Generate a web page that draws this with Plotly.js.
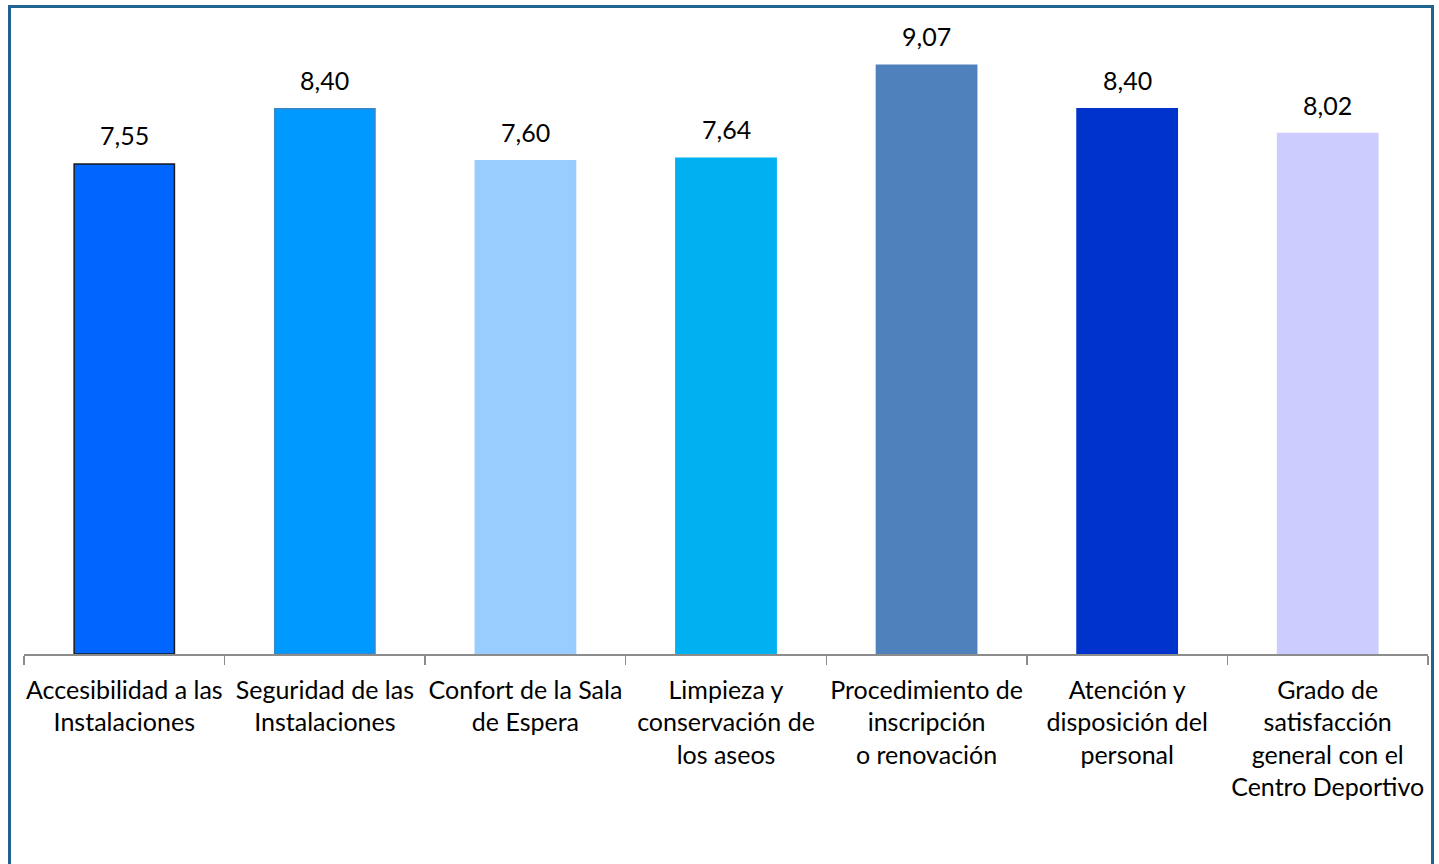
<!DOCTYPE html>
<html>
<head>
<meta charset="utf-8">
<script src="https://cdn.plot.ly/plotly-3.0.1.min.js"></script>
<style>
  html, body { margin: 0; padding: 0; background: #fff; overflow: hidden; }
  #wrap { position: relative; width: 1439px; height: 864px; }
  #chart { width: 1439px; height: 864px; }
  #frame { position: absolute; left: 8px; top: 5px; width: 1426px; height: 900px;
           border: 3px solid #1f6391; pointer-events: none; box-sizing: border-box; }
</style>
</head>
<body>
<div id="wrap">
  <div id="chart"></div>
  <div id="frame"></div>
</div>
<script>
const categories = [
  "Accesibilidad a las<br>Instalaciones",
  "Seguridad de las<br>Instalaciones",
  "Confort de la Sala<br>de Espera",
  "Limpieza y<br>conservación de<br>los aseos",
  "Procedimiento de<br>inscripción<br>o renovación",
  "Atención y<br>disposición del<br>personal",
  "Grado de<br>satisfacción<br>general con el<br>Centro Deportivo"
];
const values = [7.55, 8.40, 7.60, 7.64, 9.07, 8.40, 8.02];
const barColors = ["#0066ff", "#0099ff", "#99ccff", "#00b0f0", "#4f81bd", "#0033cc", "#ccccff"];
const barEdges  = ["#1a1a1a", "#3a87c8", "#99ccff", "#00b0f0", "#4f81bd", "#0033cc", "#ccccff"];

const fmt = v => v.toFixed(2).replace(".", ",");

const trace = {
  type: "bar",
  x: categories,
  y: values,
  width: 0.5,
  marker: { color: barColors, line: { color: barEdges, width: 1.5 } },
  hoverinfo: "skip"
};

const annotations = categories.map((c, i) => ({
  x: c, y: values[i], xref: "x", yref: "y",
  text: fmt(values[i]), showarrow: false,
  yanchor: "bottom", yshift: 12,
  font: { family: "Lato, 'Open Sans', sans-serif", size: 25, color: "#000" }
}));

const layout = {
  width: 1439, height: 864,
  margin: { l: 24, r: 11, t: 5, b: 210 },
  paper_bgcolor: "#fff", plot_bgcolor: "#fff",
  showlegend: false,
  bargap: 0.5,
  separators: ",.",
  xaxis: {
    type: "category",
    showline: true, linecolor: "#8c8c8c", linewidth: 1.5,
    ticks: "outside", tickson: "boundaries", ticklen: 9, tickcolor: "#8c8c8c", tickwidth: 1.5,
    tickangle: 0,
    ticklabelstandoff: 13,
    tickfont: { family: "Lato, 'Open Sans', sans-serif", size: 25, color: "#000" },
    showgrid: false, zeroline: false
  },
  yaxis: {
    range: [0, 10], visible: false, showgrid: false, zeroline: false
  },
  annotations: annotations
};

Plotly.newPlot("chart", [trace], layout, { displayModeBar: false, staticPlot: true });
</script>
</body>
</html>
